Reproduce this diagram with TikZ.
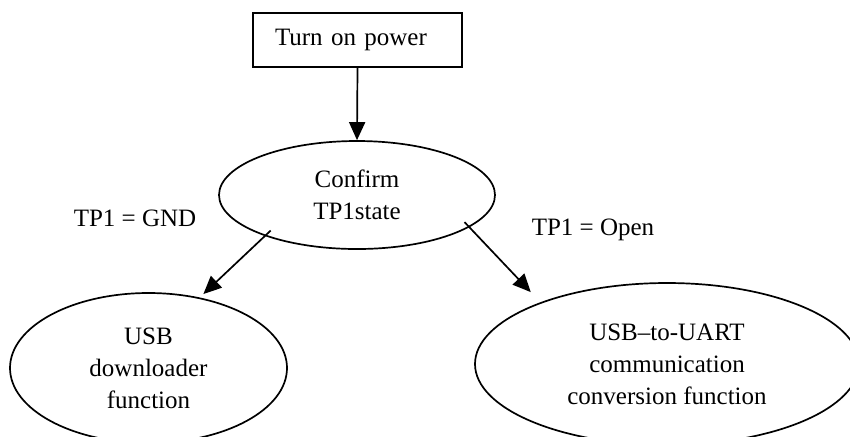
\documentclass[tikz,border=0pt]{standalone}
\usepackage{fontspec}
\setmainfont{Liberation Serif}
\usepackage{tikz}
\usetikzlibrary{arrows.meta,shapes.geometric}

\begin{document}
\begin{tikzpicture}[x=0.5pt,y=0.5pt,yscale=-1,xscale=1,
  every node/.style={font=\fontsize{12.5}{16}\selectfont},
  stepbox/.style={draw,line width=0.85pt,rectangle,minimum height=27pt,inner xsep=11pt,text width=82.5pt,align=left},
  oval/.style={draw,line width=0.85pt,ellipse,inner sep=0pt,align=center},
  arr/.style={line width=0.85pt,-{Triangle[length=9pt,width=8pt]}}]
\clip (0,0) rectangle (850,436);

% Rectangle
\node [stepbox] (power) at (357.5,40) {Turn on power};
% Ellipses
\node [oval,minimum width=138pt,minimum height=54pt] (confirm) at (357,195) {Confirm\\TP1state};
\node [oval,minimum width=138.5pt,minimum height=75pt] (usbdl) at (148.5,368) {USB\\downloader\\function};
\node [oval,minimum width=192pt,minimum height=81pt] (uart) at (667,364) {USB--to-UART\\communication\\conversion function};

% Text Node
\node (lblgnd) at (135,218) {TP1 = GND};
% Text Node
\node (lblopen) at (593,230) {TP1 = Open};

%Straight Lines
\draw [arr] (power.south) -- (confirm.north);
\draw [arr,shorten <=-4pt,shorten >=2.5pt] (confirm.204) -- (usbdl.54);
\draw [arr,shorten <=-3.5pt,shorten >=7pt] (confirm.344) -- (uart.154);
\end{tikzpicture}
\end{document}
